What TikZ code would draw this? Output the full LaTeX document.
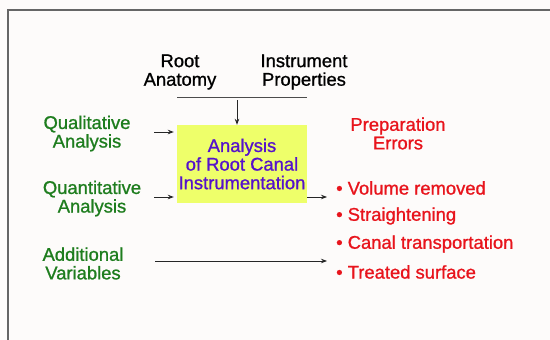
\documentclass[tikz,border=0pt]{standalone}
\usepackage{fontspec}
\setmainfont{Liberation Sans}
\newfontfamily\heavy{Liberation Sans}[FakeBold=1.0]
\usetikzlibrary{arrows.meta}
\definecolor{bg}{HTML}{FDFBFA}
\definecolor{grn}{HTML}{1E7D1E}
\definecolor{rd}{HTML}{E8141C}
\definecolor{pur}{HTML}{5511CC}
\definecolor{ylw}{HTML}{EEFF6A}
\definecolor{frame}{HTML}{666666}
\begin{document}
\begin{tikzpicture}[x=1pt,y=-1pt,
  txt/.style={font=\heavy\fontsize{18.4}{18.6}\selectfont, align=center, inner sep=0pt},
  arr/.style={-{Stealth[length=6pt,width=4.5pt]}, line width=0.8pt, draw=black!85},
  boxst/.style={txt, fill=ylw, text=pur, minimum width=130pt, minimum height=78pt}]
\useasboundingbox (0,0) rectangle (550,340);
\fill[bg] (0,0) rectangle (550,340);
\draw[line width=1.6pt, frame] (8,341) -- (8,10) -- (551,10);

\node[txt] (ra) at (180,72) {Root\\Anatomy};
\node[txt] (ip) at (304,72) {Instrument\\Properties};
\coordinate (hl) at (177,97);
\coordinate (hr) at (307,97);
\draw[line width=0.8pt, black!70] (hl) -- (hr);

\node[boxst] (box) at (242,164) {Analysis\\of Root Canal\\Instrumentation};

\coordinate (ts) at (237,100);
\draw[arr] (ts) -- (ts |- box.north);

\node[txt, text=grn] (ql) at (87,133.5) {Qualitative\\Analysis};
\node[txt, text=grn] (qn) at (92,198.5) {Quantitative\\Analysis};
\node[txt, text=grn] (av) at (83,263.5) {Additional\\Variables};

\coordinate (qls) at (154,132);
\coordinate (qns) at (154,197);
\coordinate (avs) at (155,261);
\coordinate (oute) at (327,197);
\coordinate (ave) at (327,261);
\draw[arr, shorten >=3pt] (qls) -- (qls -| box.west);
\draw[arr, shorten >=3pt] (qns) -- (qns -| box.west);
\draw[arr] (box.east |- oute) -- (oute);
\draw[arr] (avs) -- (ave);

\node[txt, text=rd] (pe) at (398,133.5) {Preparation\\Errors};
\node[txt, text=rd, anchor=west] (e1) at (336,188) {• Volume removed};
\node[txt, text=rd, anchor=west] (e2) at (336,216) {• Straightening};
\node[txt, text=rd, anchor=west] (e3) at (336,244) {• Canal transportation};
\node[txt, text=rd, anchor=west] (e4) at (336,272) {• Treated surface};
\end{tikzpicture}
\end{document}
